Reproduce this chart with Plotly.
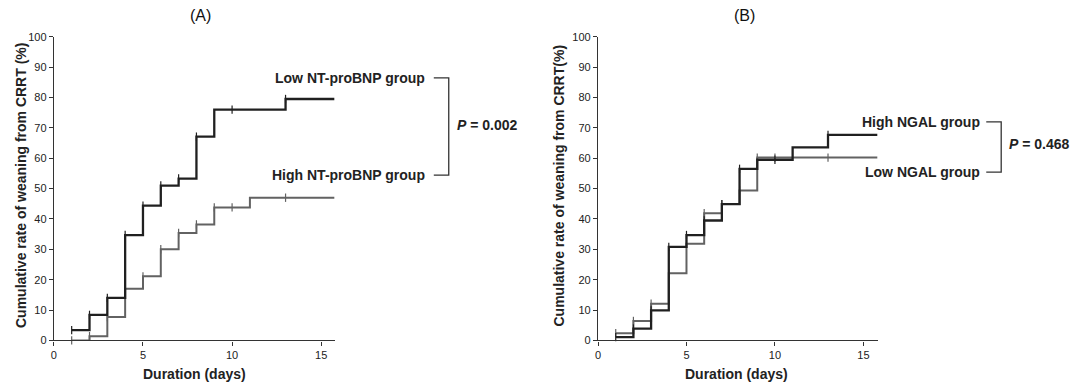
import plotly.graph_objects as go

# ---------------- data ----------------
# Panel A: NT-proBNP
a_low_t = [1, 2, 3, 4, 5, 6, 7, 8, 9, 13, 15.75]
a_low_v = [3.4, 8.4, 14.0, 34.7, 44.4, 51.0, 53.3, 67.1, 76.0, 79.5, 79.5]
a_low_cens = [1, 2, 3, 4, 5, 6, 7, 8, 10, 13]

a_high_t = [1, 2, 3, 4, 5, 6, 7, 8, 9, 11, 15.75]
a_high_v = [0.0, 1.4, 7.7, 17.0, 21.1, 30.0, 35.4, 38.2, 43.8, 47.0, 47.0]
a_high_cens = [1, 2, 3, 4, 5, 6, 7, 8, 9, 10, 13]

# Panel B: NGAL
b_high_t = [1, 2, 3, 4, 5, 6, 7, 8, 9, 11, 13, 15.8]
b_high_v = [1.1, 3.9, 9.9, 30.8, 34.7, 39.5, 44.9, 56.5, 59.5, 63.6, 67.7, 67.7]
b_high_cens = [1, 2, 3, 4, 5, 6, 7, 8, 10, 13]

b_low_t = [1, 2, 3, 4, 5, 6, 7, 8, 9, 15.8]
b_low_v = [2.4, 6.4, 12.1, 22.1, 31.8, 41.9, 44.9, 49.4, 60.2, 60.2]
b_low_cens = [1, 2, 3, 4, 5, 6, 7, 8, 9, 10, 13]

x_ticks = [0, 5, 10, 15]
y_ticks = list(range(0, 101, 10))

panel_titles = ["(A)", "(B)"]
y_titles = ["Cumulative rate of weaning from CRRT (%)", "Cumulative rate of weaning from CRRT(%)"]
x_title = "Duration (days)"
labels_a = ["Low NT-proBNP group", "High NT-proBNP group"]
labels_b = ["High NGAL group", "Low NGAL group"]
p_values = ["0.002", "0.468"]

BLACK = "#202020"
GRAY = "#626262"
FONT = "Liberation Sans, Arial, sans-serif"
W, H = 1073, 388

# map target pixel positions to paper fractions (compensates the page framing)
def px(v):
    return (v - 1.0) / W


def py(v):
    return 1 - ((v - 6.3) / 0.967) / H


def level_at(ts, vs, t):
    val = vs[0]
    for ti, vi in zip(ts, vs):
        if ti <= t:
            val = vi
    return val


fig = go.Figure()


def add_curve(ts, vs, cens, color, width, xa, ya):
    fig.add_trace(go.Scatter(x=ts, y=vs, mode="lines", line=dict(shape="hv", color=color, width=width),
                             xaxis=xa, yaxis=ya, showlegend=False, hoverinfo="skip", cliponaxis=False))
    fig.add_trace(go.Scatter(x=cens, y=[level_at(ts, vs, c) for c in cens], mode="markers",
                             marker=dict(symbol="line-ns", size=6, line=dict(color=color, width=1.2)),
                             xaxis=xa, yaxis=ya, showlegend=False, hoverinfo="skip", cliponaxis=False))


add_curve(a_high_t, a_high_v, a_high_cens, GRAY, 2, "x", "y")
add_curve(a_low_t, a_low_v, a_low_cens, BLACK, 2.3, "x", "y")
add_curve(b_low_t, b_low_v, b_low_cens, GRAY, 2, "x2", "y2")
add_curve(b_high_t, b_high_v, b_high_cens, BLACK, 2.3, "x2", "y2")

ydom = [py(340), py(37)]
axis_common = dict(showgrid=False, zeroline=False, showline=True, linecolor="#333", linewidth=1.2,
                   ticks="outside", ticklen=4, tickwidth=1.2, tickcolor="#333",
                   tickfont=dict(family=FONT, size=11, color="#222"))

fig.update_layout(
    width=W, height=H, margin=dict(l=0, r=0, t=0, b=0), autosize=False,
    paper_bgcolor="white", plot_bgcolor="white",
    xaxis=dict(domain=[px(52), px(333.5)], range=[0, 15.75], tickvals=x_ticks, anchor="y", **axis_common),
    yaxis=dict(domain=ydom, range=[0, 100], tickvals=y_ticks, anchor="x", **axis_common),
    xaxis2=dict(domain=[px(597.7), px(878)], range=[0, 15.8], tickvals=x_ticks, anchor="y2", **axis_common),
    yaxis2=dict(domain=ydom, range=[0, 100], tickvals=y_ticks, anchor="x2", **axis_common),
)

ann = []
for t, cx in [(panel_titles[0], 199), (panel_titles[1], 745)]:
    ann.append(dict(text=t, x=px(cx), y=py(16), xref="paper", yref="paper", showarrow=False,
                    font=dict(family=FONT, size=16, color="#111"), xanchor="center", yanchor="middle"))
for cx, t in [(19, y_titles[0]), (559, y_titles[1])]:
    ann.append(dict(text="<b>%s</b>" % t, x=px(cx), y=py(185), xref="paper", yref="paper", showarrow=False,
                    textangle=-90, font=dict(family=FONT, size=14, color="#222"),
                    xanchor="center", yanchor="middle"))
for cx in [193, 737]:
    ann.append(dict(text="<b>%s</b>" % x_title, x=px(cx), y=py(374), xref="paper", yref="paper",
                    showarrow=False, font=dict(family=FONT, size=14, color="#222"),
                    xanchor="center", yanchor="middle"))
for txt, rx, yy in [(labels_a[0], 426, 78), (labels_a[1], 426, 175),
                    (labels_b[0], 983, 122), (labels_b[1], 983, 172)]:
    ann.append(dict(text="<b>%s</b>" % txt, x=px(rx), y=py(yy), xref="paper", yref="paper", showarrow=False,
                    font=dict(family=FONT, size=14, color="#222"), xanchor="right", yanchor="middle"))
for pv, lx, yy in [(p_values[0], 454, 125), (p_values[1], 1008, 144)]:
    ann.append(dict(text="<b><i>P</i> = %s</b>" % pv, x=px(lx), y=py(yy), xref="paper", yref="paper",
                    showarrow=False, font=dict(family=FONT, size=14, color="#222"),
                    xanchor="left", yanchor="middle"))
fig.update_layout(annotations=ann)

shapes = []
for x0, x1, ya, yb in [(433, 448, 78, 175), (987, 1002, 122, 172)]:
    path = "M %f,%f L %f,%f L %f,%f L %f,%f" % (px(x0), py(ya), px(x1), py(ya), px(x1), py(yb), px(x0), py(yb))
    shapes.append(dict(type="path", path=path, xref="paper", yref="paper", line=dict(color="#333", width=1.3)))
fig.update_layout(shapes=shapes)

fig.write_html("out.html")
